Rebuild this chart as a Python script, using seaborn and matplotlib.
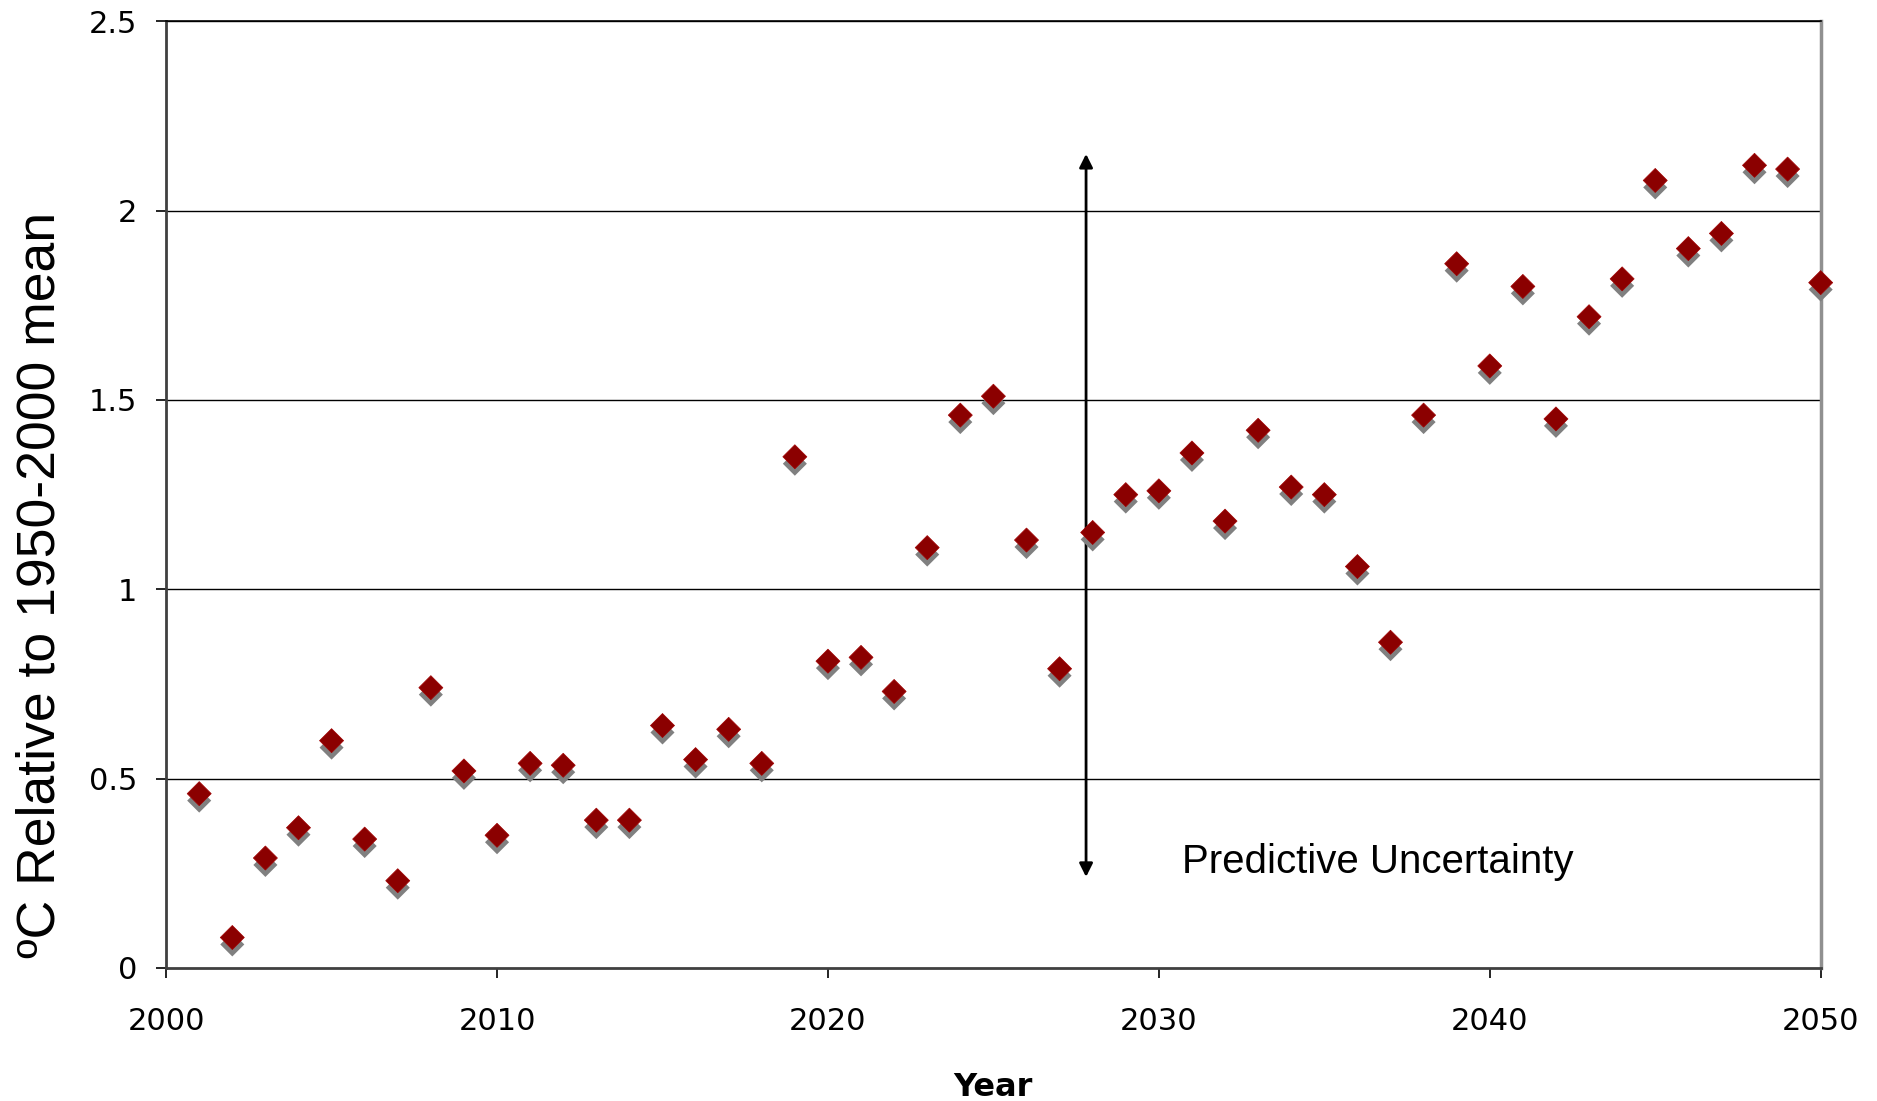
import matplotlib
matplotlib.use("Agg")
import matplotlib.pyplot as plt
import matplotlib.patheffects as pe
import seaborn as sns
import pandas as pd

years = list(range(2001, 2051))
anomaly = [0.46, 0.08, 0.29, 0.37, 0.60, 0.34, 0.23, 0.74, 0.52, 0.35,
           0.54, 0.535, 0.39, 0.39, 0.64, 0.55, 0.63, 0.54, 1.35, 0.81,
           0.82, 0.73, 1.11, 1.46, 1.51, 1.13, 0.79, 1.15, 1.25, 1.26,
           1.36, 1.18, 1.42, 1.27, 1.25, 1.06, 0.86, 1.46, 1.86, 1.59,
           1.80, 1.45, 1.72, 1.82, 2.08, 1.90, 1.94, 2.12, 2.11, 1.81]
x_ticks = [2000, 2010, 2020, 2030, 2040, 2050]
y_ticks = [0, 0.5, 1, 1.5, 2, 2.5]
y_tick_labels = ["0", "0.5", "1", "1.5", "2", "2.5"]

# arrow span and label position (data units)
arrow_year = 2027.8
arrow_top, arrow_bottom = 2.15, 0.24
note_text = "Predictive Uncertainty"

df = pd.DataFrame({"Year": years, "Anomaly": anomaly})

sns.set_style("white")
plt.rcParams["text.color"] = "black"
narrow = ["Liberation Sans", "DejaVu Sans"]

fig = plt.figure(figsize=(18.77, 11.01), dpi=100)
ax = fig.add_axes([0.0885, 0.121, 0.8815, 0.8595])

# horizontal grid lines
for y in y_ticks[1:]:
    ax.axhline(y, color="black", lw=1.0, zorder=1)

sc = sns.scatterplot(data=df, x="Year", y="Anomaly", ax=ax, marker="D", s=150,
                     color="#8B0000", edgecolor="#A00000", linewidth=0.5,
                     zorder=5, clip_on=False)
sc.collections[0].set_path_effects([
    pe.SimplePatchShadow(offset=(0, -5), shadow_rgbFace="#808080", alpha=1.0),
    pe.Normal()])

ax.annotate("", xy=(arrow_year, arrow_top), xytext=(arrow_year, arrow_bottom),
            arrowprops=dict(arrowstyle="<|-|>", color="black", lw=2.0,
                            mutation_scale=20, shrinkA=0, shrinkB=0), zorder=4)
ax.text(arrow_year + 2.9, arrow_bottom + 0.04, note_text, family=narrow,
        fontsize=29, va="center", ha="left", color="black")

ax.set_xlim(2000, 2050)
ax.set_ylim(0, 2.5)
ax.set_xticks(x_ticks)
ax.set_yticks(y_ticks)
ax.set_yticklabels(y_tick_labels)
ax.tick_params(axis="both", direction="out", length=7, width=1.2, color="black",
               labelsize=22, labelcolor="black", left=True, bottom=True)
ax.tick_params(axis="x", pad=21)
ax.tick_params(axis="y", pad=14)

for name, sp in ax.spines.items():
    sp.set_visible(True)
    sp.set_color("black")
    sp.set_linewidth(1.2)
ax.spines["left"].set_linewidth(2.0)
ax.spines["left"].set_color("#404040")
ax.spines["bottom"].set_linewidth(2.0)
ax.spines["bottom"].set_color("#404040")
ax.spines["right"].set_color("#909090")
ax.spines["right"].set_linewidth(2.5)

ax.set_xlabel("Year", fontsize=23, fontweight="bold", labelpad=26, color="black")
ax.set_ylabel("ºC Relative to 1950-2000 mean", family=narrow, fontsize=38.5,
              color="black")
ax.yaxis.set_label_coords(-0.061, 0.405)

fig.savefig("out.png", dpi=100)
